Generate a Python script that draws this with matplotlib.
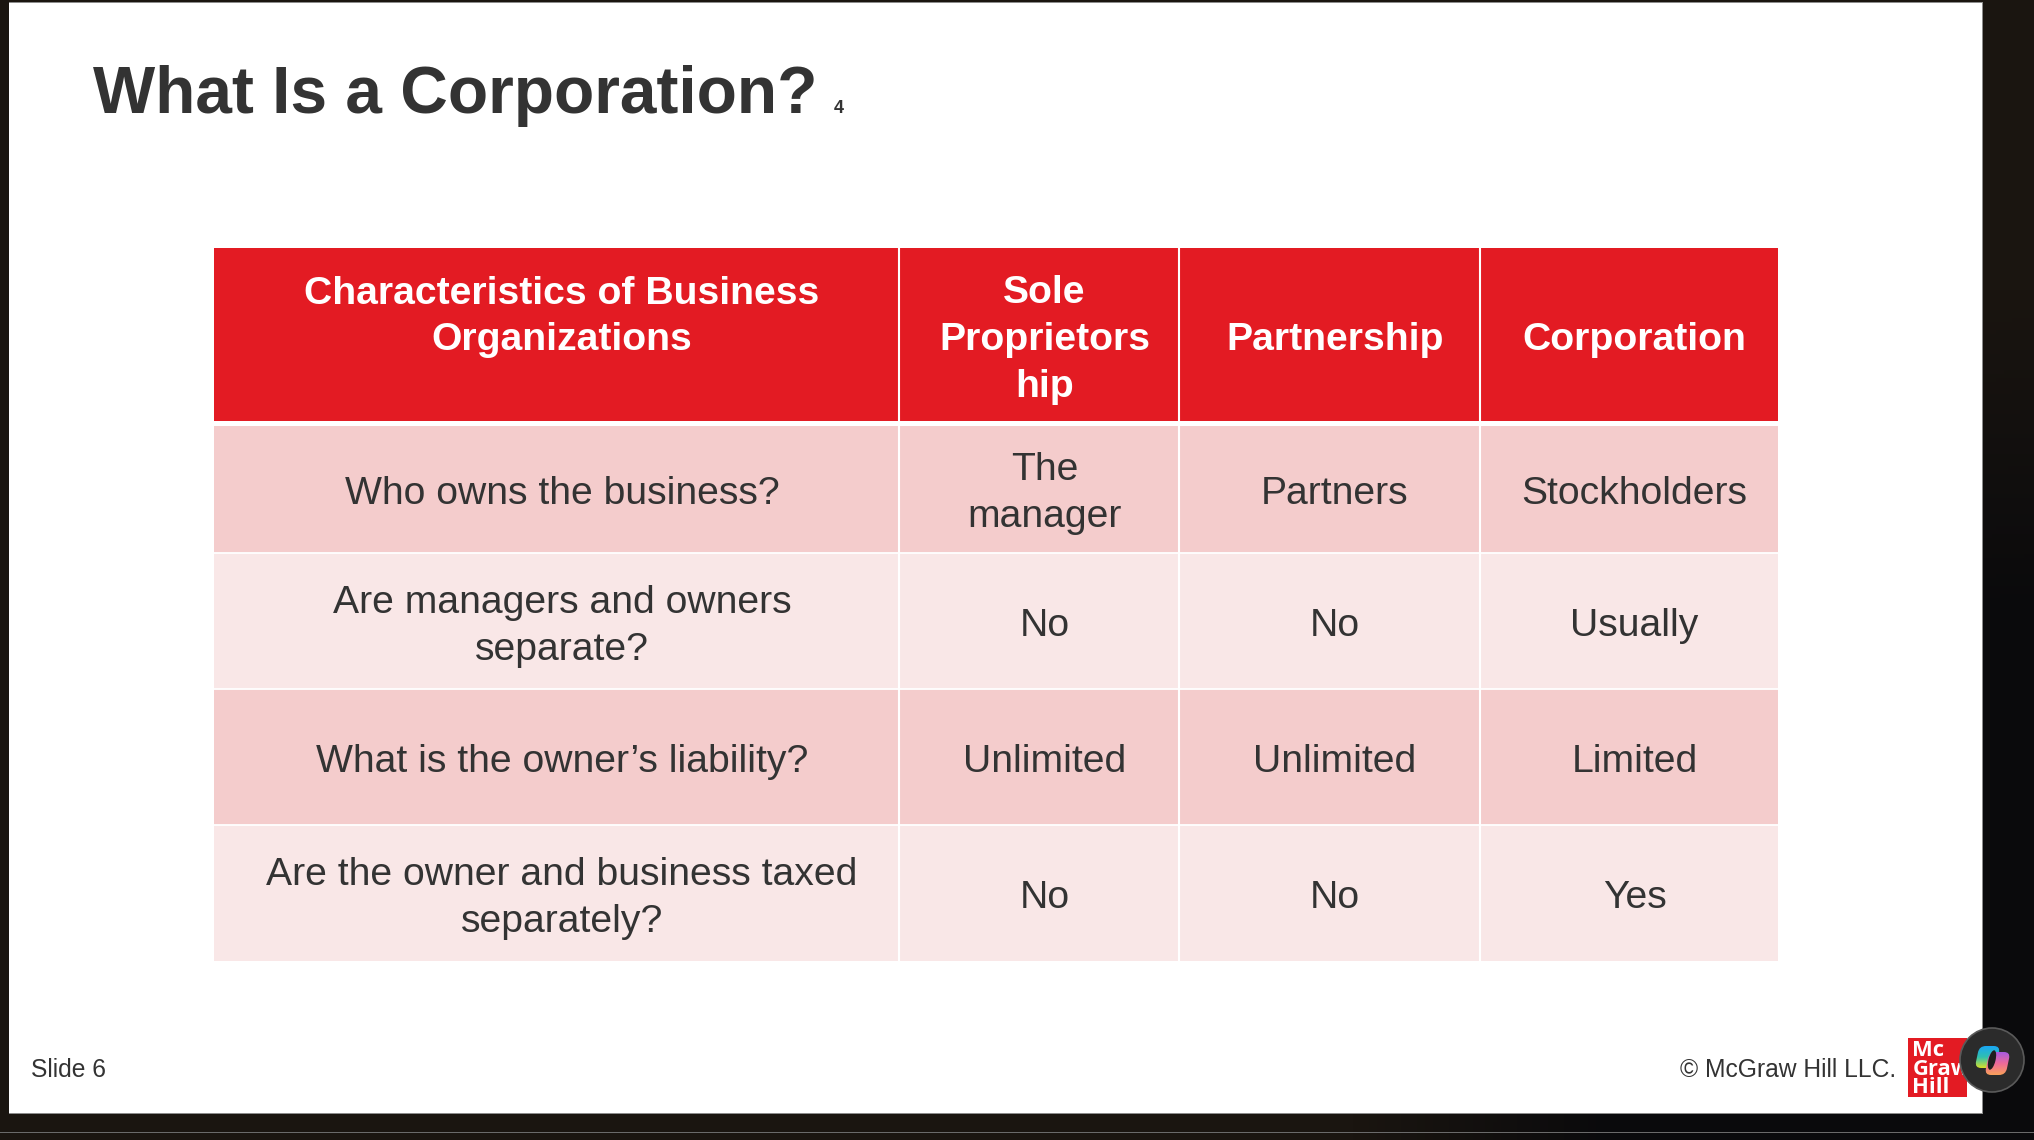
import numpy as np
import matplotlib
matplotlib.use("Agg")
import matplotlib.pyplot as plt
from matplotlib.patches import Rectangle, Circle, FancyBboxPatch, Ellipse
from matplotlib.colors import LinearSegmentedColormap
from matplotlib.transforms import Affine2D

plt.rcParams['font.family'] = ['Liberation Sans', 'DejaVu Sans']

title = "What Is a Corporation?"
footnote = "4"
slide_label = "Slide 6"
copyright_label = "© McGraw Hill LLC."
logo_lines = ["Mc", "Graw", "Hill"]
header = ["Characteristics of Business\nOrganizations", "Sole\nProprietors\nhip", "Partnership", "Corporation"]
questions = ["Who owns the business?", "Are managers and owners\nseparate?",
             "What is the owner’s liability?", "Are the owner and business taxed\nseparately?"]
sole_prop = ["The\nmanager", "No", "Unlimited", "No"]
partnership = ["Partners", "No", "Unlimited", "No"]
corporation = ["Stockholders", "Usually", "Limited", "Yes"]

W, H = 2034, 1140
TEXT = "#333333"
RED = "#E31B23"
ROW_A, ROW_B = "#F4CCCC", "#F9E7E7"
col_edges = [214, 899, 1179, 1480, 1778]
row_edges = [248, 423, 553, 689, 825, 961]
LINE_H = 46.8
FS = 28.2

fig = plt.figure(figsize=(W / 100, H / 100), dpi=100, facecolor="#0A0A0C")
ax = fig.add_axes([0, 0, 1, 1])
ax.set_xlim(0, W); ax.set_ylim(H, 0); ax.axis("off")

def rect(x0, y0, x1, y1, color, z=1, **kw):
    ax.add_patch(Rectangle((x0, y0), x1 - x0, y1 - y0, facecolor=color, edgecolor="none", zorder=z, **kw))

def lines(cx, cy, s, **kw):
    parts = s.split("\n")
    for i, part in enumerate(parts):
        ax.text(cx, cy + (i - (len(parts) - 1) / 2) * LINE_H + 13, part, fontsize=FS, ha="center",
                va="baseline", zorder=3, **kw)

# surrounding window: warm dark fading to black towards the lower right corner
xx, yy = np.meshgrid(np.arange(0, W, 4), np.arange(0, H, 4))
r = np.hypot(W - xx, (H - yy) / 1.25)
t = np.clip((r - 420) / 260, 0, 1)[..., None]
bg = (1 - t) * np.array([10, 10, 12]) + t * np.array([26, 21, 16])
ax.imshow(bg.astype(np.uint8), extent=(0, W, H, 0), aspect="auto", zorder=0, interpolation="bilinear")
rect(0, 1132, W, 1133.2, "#6A6A6A")
rect(8.5, 1.5, 1983, 1114, "#8C8C8C")
rect(9, 3, 1982, 1113, "white", z=1.1)

ax.text(93, 113, title, fontsize=47.4, fontweight="bold", color=TEXT, ha="left", va="baseline", zorder=3)
ax.text(834, 113, footnote, fontsize=13, fontweight="bold", color=TEXT, ha="left", va="baseline", zorder=3)

columns = [questions, sole_prop, partnership, corporation]
header_cy = [314, 337, 337, 337]
row_shift = [1, 2.5, 2.5, 2.5]
for c in range(4):
    x0, x1 = col_edges[c], col_edges[c + 1]
    cx = (x0 + x1) / 2 + 5.5
    rect(x0, row_edges[0], x1, 420.5, RED, z=2)
    lines(cx, header_cy[c], header[c], fontweight="bold", color="white")
    for r_i in range(4):
        y0, y1 = row_edges[r_i + 1], row_edges[r_i + 2]
        y0_draw = 426 if r_i == 0 else y0
        rect(x0, y0_draw, x1, y1, ROW_A if r_i % 2 == 0 else ROW_B, z=2)
        lines(cx, (y0_draw + y1) / 2 + row_shift[r_i], columns[c][r_i], color=TEXT)

for x in col_edges[1:-1]:
    ax.plot([x, x], [248, 961], color="white", lw=1.5, zorder=2.5, solid_capstyle="butt")
for y in row_edges[2:-1]:
    ax.plot([214, 1778], [y, y], color="white", lw=1.3, zorder=2.5, solid_capstyle="butt")

ax.text(31, 1077, slide_label, fontsize=17.75, color=TEXT, ha="left", va="baseline", zorder=3)
ax.text(1896, 1077, copyright_label, fontsize=17.75, color=TEXT, ha="right", va="baseline", zorder=3)

# logo: one multi-line text, tightly set as in the reference
rect(1908, 1038, 1967, 1097, RED, z=3)
ax.text(1912.5, 1093, "\n".join(logo_lines), fontsize=15.8, fontweight="bold", family="Open Sans", color="white",
        ha="left", va="baseline", linespacing=0.84, zorder=4)

# overlay button
ax.add_patch(Circle((1992, 1060), 32, facecolor="#2B2B2B", edgecolor="#5A5A5A", lw=1.2, zorder=5))

def blob(x0, y0, w, h, colors, mix, z):
    # slanted rounded tile, filled with a gradient
    tf = Affine2D().translate(-(x0 + w / 2), -(y0 + h / 2)).skew_deg(-12, 0).translate(x0 + w / 2, y0 + h / 2)
    p = FancyBboxPatch((x0, y0), w, h, boxstyle="round,pad=0,rounding_size=6.5",
                       facecolor="none", edgecolor="none", zorder=z, transform=tf + ax.transData)
    ax.add_patch(p)
    cmap = LinearSegmentedColormap.from_list("g", colors)
    u, v = np.meshgrid(np.linspace(0, 1, 64), np.linspace(0, 1, 64))
    im = ax.imshow(mix * u + (1 - mix) * v, cmap=cmap, extent=(x0 - 10, x0 + w + 10, y0 + h, y0),
                   zorder=z, aspect="auto", interpolation="bilinear")
    im.set_clip_path(p)

blob(1977, 1046, 21, 22, ["#1AA7F5", "#2FC0B0", "#D6E02A"], 0.0, 6)
blob(1987, 1052, 21, 23, ["#A85BE0", "#EE6A98", "#F9A05A"], 0.0, 6)
ax.add_patch(Ellipse((1992, 1060), 7, 20, angle=14, facecolor="#1E1E1E", edgecolor="none", zorder=7))
ax.set_xlim(0, W); ax.set_ylim(H, 0)

fig.savefig("out.png", dpi=100, facecolor=fig.get_facecolor())
